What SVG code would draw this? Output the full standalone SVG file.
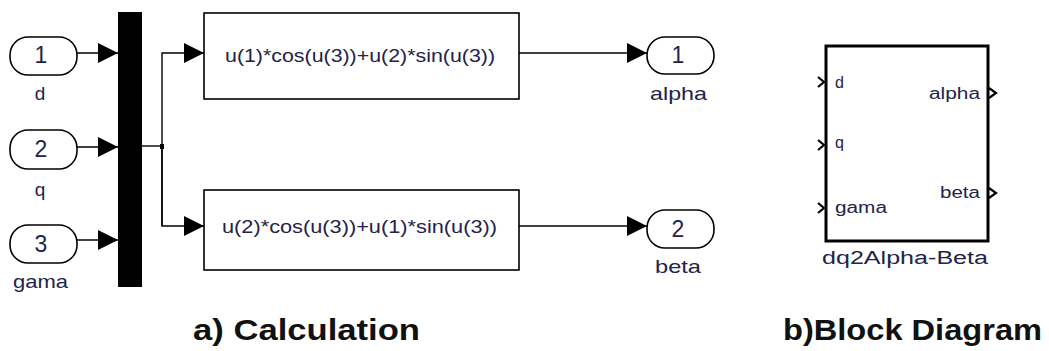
<svg xmlns="http://www.w3.org/2000/svg" width="1049" height="351" viewBox="0 0 1049 351">
<style>
.port{fill:#fff;stroke:#000;stroke-width:1.6}
.blk{fill:#fff;stroke:#000;stroke-width:1.6}
.ln{fill:none;stroke:#000;stroke-width:1.4}
.t{font-family:"Liberation Sans",Arial,sans-serif;fill:#23234a}
.num{font-size:23px;text-anchor:middle}
.lbl{font-size:19px}
.cap{font-family:"Liberation Sans",Arial,sans-serif;font-size:30px;font-weight:bold;fill:#111}
.chev{fill:none;stroke:#000;stroke-width:2.2}
</style>
<defs>
<marker id="arr" markerWidth="20" markerHeight="20" refX="20" refY="10" orient="auto" markerUnits="userSpaceOnUse" viewBox="0 0 20 20">
<path d="M0,0 L20,10 L0,20 Z" fill="#000"/>
</marker>
</defs>
<rect width="1049" height="351" fill="#fff"/>

<g id="in1">
<rect class="port" x="10" y="37" width="67" height="38" rx="18"/>
<text class="t num" x="41" y="63">1</text>
<text class="t lbl" x="40" y="100" text-anchor="middle">d</text>
</g>
<g id="in2">
<rect class="port" x="10" y="130" width="67" height="39" rx="18"/>
<text class="t num" x="41" y="157">2</text>
<text class="t lbl" x="40" y="196" text-anchor="middle">q</text>
</g>
<g id="in3">
<rect class="port" x="10" y="225" width="67" height="38" rx="18"/>
<text class="t num" x="41" y="252">3</text>
<text class="t lbl" x="13" y="288" textLength="55" lengthAdjust="spacingAndGlyphs">gama</text>
</g>

<g id="mux">
<rect x="118" y="12" width="24" height="275" fill="#000"/>
</g>

<g id="fcn1">
<rect class="blk" x="204" y="13" width="315" height="86"/>
<text class="t" x="225" y="62" font-size="18" textLength="270" lengthAdjust="spacingAndGlyphs">u(1)*cos(u(3))+u(2)*sin(u(3))</text>
</g>
<g id="fcn2">
<rect class="blk" x="204" y="190" width="315" height="80"/>
<text class="t" x="222" y="233" font-size="18" textLength="275" lengthAdjust="spacingAndGlyphs">u(2)*cos(u(3))+u(1)*sin(u(3))</text>
</g>

<g id="out1">
<rect class="port" x="647" y="37" width="67" height="37" rx="18"/>
<text class="t num" x="678" y="63">1</text>
<text class="t lbl" x="650" y="100" textLength="57" lengthAdjust="spacingAndGlyphs">alpha</text>
</g>
<g id="out2">
<rect class="port" x="647" y="210" width="67" height="38" rx="18"/>
<text class="t num" x="678" y="237">2</text>
<text class="t lbl" x="655" y="273" textLength="46" lengthAdjust="spacingAndGlyphs">beta</text>
</g>

<g id="connectors">
<line class="ln" x1="77" y1="53" x2="118" y2="53" marker-end="url(#arr)"/>
<line class="ln" x1="77" y1="147" x2="118" y2="147" marker-end="url(#arr)"/>
<line class="ln" x1="77" y1="240" x2="118" y2="240" marker-end="url(#arr)"/>
<line class="ln" x1="142" y1="146" x2="162" y2="146"/>
<rect x="160" y="144" width="4" height="5" fill="#000"/>
<polyline class="ln" points="162,226 162,53 204,53" marker-end="url(#arr)"/>
<polyline class="ln" points="162,146 162,226 204,226" marker-end="url(#arr)"/>
<line class="ln" x1="519" y1="53" x2="647" y2="53" marker-end="url(#arr)"/>
<line class="ln" x1="519" y1="226" x2="647" y2="226" marker-end="url(#arr)"/>
</g>

<g id="subsystem">
<rect x="826" y="46" width="162" height="195" fill="#fff" stroke="#000" stroke-width="3"/>
<polyline class="chev" points="818,77 824,82 818,87"/>
<polyline class="chev" points="818,140 824,145 818,150"/>
<polyline class="chev" points="818,203 824,208 818,213"/>
<polyline class="chev" points="989,88 996,93 989,98"/>
<polyline class="chev" points="989,188 996,193 989,198"/>
<text class="t" x="835" y="88" font-size="16">d</text>
<text class="t" x="835" y="148" font-size="16">q</text>
<text class="t" x="835" y="213" font-size="16" textLength="52" lengthAdjust="spacingAndGlyphs">gama</text>
<text class="t" x="929" y="99" font-size="16" textLength="51" lengthAdjust="spacingAndGlyphs">alpha</text>
<text class="t" x="940" y="198" font-size="16" textLength="40" lengthAdjust="spacingAndGlyphs">beta</text>
<text class="t" x="822" y="264" font-size="18" textLength="166" lengthAdjust="spacingAndGlyphs">dq2Alpha-Beta</text>
</g>

<text class="cap" x="193" y="340" textLength="227" lengthAdjust="spacingAndGlyphs">a) Calculation</text>
<text class="cap" x="783" y="340" textLength="259" lengthAdjust="spacingAndGlyphs">b)Block Diagram</text>
</svg>
